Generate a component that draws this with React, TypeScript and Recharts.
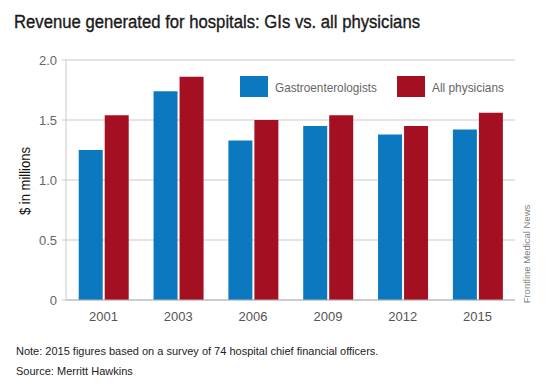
import React from 'react';
import { BarChart, Bar, XAxis, YAxis, CartesianGrid, Legend } from 'recharts';

const years = ['2001', '2003', '2006', '2009', '2012', '2015'];
const gastroenterologists = [1.25, 1.74, 1.33, 1.45, 1.38, 1.42];
const allPhysicians = [1.54, 1.86, 1.5, 1.54, 1.45, 1.56];
const yTicks = [0, 0.5, 1, 1.5, 2];
const seriesOrder = ['gi', 'all'];

const BLUE = '#0b78bf';
const RED = '#a50f22';
const condensed = '"DejaVu Sans Condensed", "Liberation Sans Narrow", "Liberation Sans", Arial, sans-serif';
const sans = '"Liberation Sans", Arial, sans-serif';

const data = years.map((year, i) => ({
  year,
  gi: gastroenterologists[i],
  all: allPhysicians[i],
}));

const LegendBox = (props: any) => {
  const items = [...(props.payload || [])].sort(
    (a: any, b: any) => seriesOrder.indexOf(a.dataKey) - seriesOrder.indexOf(b.dataKey)
  );
  return (
    <svg width={290} height={24} style={{ display: 'block' }}>
      {items.map((item: any, i: number) => {
        const x = i === 0 ? 0 : 157;
        return (
          <g key={item.value}>
            <rect x={x} y={1} width={28} height={21} fill={item.color} />
            <text
              x={x + 35}
              y={16.5}
              fontFamily={sans}
              fontSize={13.5}
              fill="#666"
              textLength={i === 0 ? 102 : 72}
              lengthAdjust="spacingAndGlyphs"
            >
              {item.value}
            </text>
          </g>
        );
      })}
    </svg>
  );
};

const App: React.FC = () => {
  return (
    <div style={{ position: 'relative', width: 548, height: 392, background: '#fff' }}>
      <style>{'body{margin:0}'}</style>
      <BarChart
        width={548}
        height={392}
        data={data}
        margin={{ top: 60, right: 33, bottom: 62, left: 16 }}
        barCategoryGap="17%"
        barGap={2}
      >
        <CartesianGrid vertical={false} stroke="#c9c9c9" />
        <XAxis
          dataKey="year"
          height={30}
          axisLine={{ stroke: '#b5b5b5' }}
          tickLine={false}
          tick={{ fill: '#555', fontSize: 13, fontFamily: sans }}
          tickMargin={6}
        />
        <YAxis
          width={50}
          domain={[0, 2]}
          ticks={yTicks}
          interval={0}
          tickFormatter={(v: number) => (v === 0 ? '0' : v.toFixed(1))}
          axisLine={{ stroke: '#c9c9c9' }}
          tickLine={{ stroke: '#c9c9c9' }}
          tickSize={4}
          tickMargin={5}
          tick={{ fill: '#666', fontSize: 13, fontFamily: sans }}
        />
        <Legend
          content={<LegendBox />}
          verticalAlign="middle"
          align="center"
          wrapperStyle={{ position: 'absolute', left: 240, top: 75, width: 290 }}
        />
        <Bar dataKey="gi" name="Gastroenterologists" fill={BLUE} isAnimationActive={false} />
        <Bar dataKey="all" name="All physicians" fill={RED} isAnimationActive={false} />
      </BarChart>
      <svg
        width={548}
        height={392}
        style={{ position: 'absolute', left: 0, top: 0, pointerEvents: 'none' }}
      >
        <text
          x={14}
          y={28}
          fontFamily={sans}
          fontSize={18}
          fill="#1a1a1a"
          stroke="#1a1a1a"
          strokeWidth={0.35}
          textLength={406}
          lengthAdjust="spacingAndGlyphs"
        >
          Revenue generated for hospitals: GIs vs. all physicians
        </text>
        <text
          x={0}
          y={0}
          transform="translate(30 181) rotate(-90)"
          textAnchor="middle"
          fontFamily={sans}
          fontSize={14}
          fill="#111"
          textLength={68}
          lengthAdjust="spacingAndGlyphs"
        >
          $ in millions
        </text>
        <text x={16} y={355} fontFamily={sans} fontSize={11} fill="#222">
          Note: 2015 figures based on a survey of 74 hospital chief financial officers.
        </text>
        <text x={16} y={375} fontFamily={sans} fontSize={11} fill="#222">
          Source: Merritt Hawkins
        </text>
        <text
          x={0}
          y={0}
          transform="translate(530 254) rotate(-90)"
          textAnchor="middle"
          fontFamily={sans}
          fontSize={9.5}
          fill="#808080"
        >
          Frontline Medical News
        </text>
      </svg>
    </div>
  );
};

export default App;
